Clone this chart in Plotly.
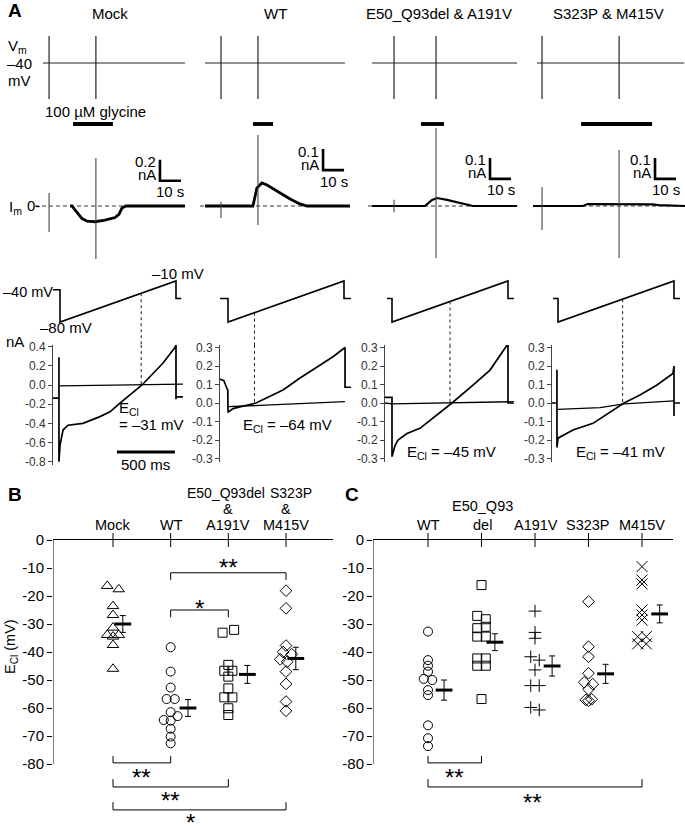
import plotly.graph_objects as go

W, H = 685, 826
FONT = "Liberation Sans, Arial, Helvetica, sans-serif"

# ============================ DATA ============================
# ---------- Panel A : glycine responses (time in s) ----------
col_names = ["Mock", "WT", "E50_Q93del & A191V", "S323P & M415V"]

vm_hold = -40
vm_start = [3.8, 2.4, 1.9, 1.9]
vm_end = [71.4, 69.0, 71.0, 72.0]
artifact_t = [[6.7, 29.0], [10.0, 27.6], [12.4, 32.4], [4.3, 41.0]]
vm_art_hi, vm_art_lo = 14, -112

gly_on = [18.1, 25.2, 25.2, 22.9]
gly_off = [37.1, 34.8, 36.2, 56.7]

im_t = [
    [16.7, 17.6, 20, 22.4, 24.8, 28.6, 33.3, 38.1, 40, 41.4, 43.3, 71.4],
    [2.4, 25.2, 27.1, 29.5, 31.9, 38.1, 42.9, 47.6, 51.0, 71.4],
    [1.9, 27.1, 30.5, 32.9, 37.6, 43.8, 50.0, 71.0],
    [0.0, 23.8, 26.0, 52.0, 56.7, 60.0, 72.4],
]
im_i = [
    [0, 0, -0.06, -0.12, -0.145, -0.15, -0.135, -0.11, -0.08, -0.02, 0, 0],
    [0, 0, 0.086, 0.11, 0.10, 0.062, 0.033, 0.010, 0, 0],
    [0, 0, 0.029, 0.038, 0.029, 0.014, 0, 0],
    [0, 0, 0.0095, 0.0095, 0.008, 0.004, 0],
]
im_art_hi = [[0.124, 0.457], [0.02, 0.338], [0.03, 0.371], [0.09, 0.267]]
im_art_lo = [[-0.248, -0.505], [-0.057, -0.09], [-0.03, -0.248], [-0.114, -0.248]]
im_base_end = [71.4, 71.4, 71.0, 72.4]

sb_t = [59.5, 58.6, 58.1, 58.1]
sb_i = [0.24, 0.171, 0.129, 0.129]
sb_amp = [0.2, 0.1, 0.1, 0.1]
sb_amp_lbl = ["0.2", "0.1", "0.1", "0.1"]
sb_dur = 10

# ---------- Panel A : voltage ramps (time in ms) ----------
ramp_v0, ramp_v1, ramp_dur, ramp_hold = -80, -10, 1000, -40
ramp_pre_t = [-60, -69, -43, -43]
ramp_pre_v = [-25, -40, -40, -40]
ramp_post_t = [1045, 1060, 1050, 1052]
ecl = [-31, -64, -45, -41]

iv_gly_t = [
    [-60, -9, -9, -9, 0, 26, 69, 198, 345, 431, 517, 603, 707, 802, 888, 991, 1000, 1000, 1000, 1060],
    [-69, -35, -10, -2, 0, 43, 241, 474, 621, 767, 905, 1009, 1009, 1060],
    [-60, 0, 0, 26, 52, 129, 241, 388, 517, 698, 845, 1000, 1000, 1050],
    [-52, -9, -9, -9, 0, 129, 302, 569, 707, 853, 991, 1000, 1000, 1000, 1052],
]
iv_gly_i = [
    [-0.136, -0.136, 0.29, -0.80, -0.63, -0.47, -0.42, -0.40, -0.33, -0.28, -0.19, -0.10, 0.0, 0.12, 0.23, 0.39, 0.42, -0.15, -0.125, -0.125],
    [0.13, 0.12, 0.08, 0.07, -0.05, -0.03, 0.0, 0.07, 0.135, 0.195, 0.25, 0.30, 0.085, 0.085],
    [0.03, 0.03, -0.29, -0.23, -0.20, -0.165, -0.137, -0.065, 0.0, 0.097, 0.178, 0.32, 0.0, 0.0],
    [0.0, 0.0, 0.18, -0.24, -0.19, -0.146, -0.11, 0.0, 0.043, 0.097, 0.16, 0.20, -0.07, 0.0, 0.0],
]
iv_ctl_t = [[0, 1060], [0, 1009], [-60, 0, 1050], [0, 190, 362, 569, 1000]]
iv_ctl_i = [[-0.01, 0.01], [-0.02, 0.007], [0.0, -0.005, 0.007], [-0.035, -0.03, -0.025, -0.005, 0.012]]
iv_ticks = [
    [0.4, 0.2, 0.0, -0.2, -0.4, -0.6, -0.8],
    [0.3, 0.2, 0.1, 0.0, -0.1, -0.2, -0.3],
    [0.3, 0.2, 0.1, 0.0, -0.1, -0.2, -0.3],
    [0.3, 0.2, 0.1, 0.0, -0.1, -0.2, -0.3],
]
timebar_t = [491, 991]
timebar_i = -0.70

# ---------- Panel B ----------
b_groups = ["Mock", "WT", "E50_Q93del & A191V", "S323P & M415V"]
b_vals = [
    [-16.4, -17.6, -23.6, -26.8, -31.3, -33.9, -33.9, -34.5, -37.5, -46.0],
    [-38.3, -47.0, -52.7, -56.8, -56.8, -61.5, -62.9, -64.3, -64.5, -67.4, -70.2, -72.6],
    [-33.1, -32.1, -44.6, -46.7, -46.7, -48.8, -53.0, -56.2, -56.2, -60.1, -62.5],
    [-18.1, -24.4, -37.7, -40.0, -40.8, -42.6, -43.5, -47.0, -51.4, -57.7, -61.0],
]
b_jit = [
    [-0.1, 0.1, 0, 0, 0, -0.1, 0.1, 0, 0, 0],
    [0, 0, 0, -0.07, 0.07, 0, 0.12, -0.12, 0, 0, 0, 0],
    [-0.1, 0.1, 0, -0.07, 0.07, 0, 0, -0.07, 0.07, 0, 0],
    [0, 0, 0, -0.05, 0.1, -0.1, 0.02, 0, 0, 0, 0],
]
b_sym = ["triangle-up-open", "circle-open", "square-open", "diamond-open"]
b_mean = [-30.0, -60.0, -48.0, -42.3]
b_sem = [3.0, 3.0, 3.2, 4.0]
b_mean_off = [0.17, 0.3, 0.33, 0.17]
b_br_from = [1, 1, 0, 0, 0]
b_br_to = [3, 2, 1, 2, 3]
b_br_y = [-11.7, -25.0, -79.6, -88.2, -96.4]
b_br_leg = [-14.3, -27.6, -77.1, -85.4, -93.6]
b_br_lbl = ["**", "*", "**", "**", "*"]
b_br_lbl_x = [2.0, 1.5, 0.5, 1.0, 1.35]
b_br_lbl_y = [-8.2, -22.5, -83.2, -91.4, -99.0]

# ---------- Panel C ----------
c_groups = ["WT", "E50_Q93del", "A191V", "S323P", "M415V"]
c_vals = [
    [-32.7, -42.9, -44.9, -47.0, -49.6, -50.0, -53.6, -55.4, -66.2, -70.8, -73.6],
    [-16.1, -27.1, -28.3, -31.0, -31.5, -34.5, -34.5, -42.3, -42.3, -44.9, -44.9, -56.8],
    [-25.4, -33.0, -35.1, -41.7, -42.9, -46.4, -52.0, -52.0, -59.8, -60.7],
    [-22.0, -38.1, -41.7, -47.6, -50.8, -51.5, -53.3, -57.1, -57.4, -56.9],
    [-9.5, -14.3, -15.7, -25.0, -26.8, -28.6, -34.5, -34.5, -37.1, -37.1],
]
c_jit = [
    [0, 0, 0, 0, -0.08, 0.08, 0, 0, 0, 0, 0],
    [0, -0.08, 0.08, 0.08, -0.08, -0.08, 0.08, -0.08, 0.08, -0.08, 0.08, 0],
    [0, 0, 0, -0.08, 0.08, 0, -0.08, 0.08, -0.08, 0.08],
    [0, 0, 0, 0, -0.08, 0.08, 0, -0.05, 0, 0.06],
    [0, 0, 0, 0, 0, 0, -0.08, 0.08, -0.08, 0.08],
]
c_sym = ["circle-open", "square-open", "cross-thin-open", "diamond-open", "x-thin-open"]
c_size = [9, 9, 9, 9, 11]
c_mean = [-53.6, -36.5, -45.0, -47.8, -26.4]
c_sem = [3.6, 3.0, 3.6, 3.4, 3.2]
c_mean_off = [0.3, 0.25, 0.32, 0.32, 0.33]
c_br_from = [0, 0]
c_br_to = [1, 4]
c_br_y = [-79.6, -88.2]
c_br_leg = [-77.1, -85.4]
c_br_lbl = ["**", "**"]
c_br_lbl_x = [0.5, 1.95]
c_br_lbl_y = [-83.2, -91.8]

ytick_vals = [0, -10, -20, -30, -40, -50, -60, -70, -80]

# ============================ LAYOUT GEOMETRY (pixels) ============================
T_PX0 = [35, 200, 368, 533]; T_W = 152; K_T = 2.1
VM_DOM = (28, 104); VM_Y0 = 63; K_VM = 0.5
GLY_DOM = (116, 132)
IM_DOM = (126, 262); IM_Y0 = 206; K_IM = [105, 210, 210, 210]
R_AX = [53, 220, 385, 552]; R_STEP = [60, 228, 392, 558]; R_W = 132; K_R = 0.116
RV_DOM = (265, 345); RV_80 = 322; K_RV = 0.586
IV_DOM = [(345, 465), (345, 462), (345, 462), (345, 462)]
IV_Y0 = [385, 403, 403, 403]; K_IV = [95.8, 185, 185, 185]

layout = dict(width=W, height=H, autosize=False,
              margin=dict(l=0, r=0, t=0, b=0, pad=0, autoexpand=False),
              paper_bgcolor="white", plot_bgcolor="rgba(0,0,0,0)",
              showlegend=False, font=dict(family=FONT, size=14, color="black"),
              annotations=[], shapes=[])
traces = []
_n = [0]


def add_axes(xdom, xr, ydom, yr, xextra=None, yextra=None):
    _n[0] += 1
    s = "" if _n[0] == 1 else str(_n[0])
    xa = dict(domain=[xdom[0] / W, xdom[1] / W], range=list(xr), anchor="y" + s,
              visible=False, fixedrange=True, automargin=False)
    ya = dict(domain=[1 - ydom[1] / H, 1 - ydom[0] / H], range=list(yr), anchor="x" + s,
              visible=False, fixedrange=True, automargin=False)
    if xextra:
        xa.update(xextra)
    if yextra:
        ya.update(yextra)
    layout["xaxis" + s] = xa
    layout["yaxis" + s] = ya
    return "x" + s, "y" + s


def line(ax, x, y, width=1.0, color="black", dash=None):
    traces.append(go.Scatter(x=x, y=y, xaxis=ax[0], yaxis=ax[1], mode="lines",
                             line=dict(width=width, color=color, dash=dash),
                             hoverinfo="skip", showlegend=False, connectgaps=False))


def ann(text, xpx, ypx, size=14.5, xanchor="center", yanchor="middle", **kw):
    layout["annotations"].append(dict(text=text, x=xpx / W, y=1 - ypx / H, xref="paper", yref="paper",
                                      showarrow=False, xanchor=xanchor, yanchor=yanchor,
                                      font=dict(family=FONT, size=size, color="black"), **kw))


def dann(text, ax, x, y, size=14.5, xanchor="center", yanchor="middle", xshift=0, yshift=0):
    layout["annotations"].append(dict(text=text, x=x, y=y, xref=ax[0], yref=ax[1], showarrow=False,
                                      xanchor=xanchor, yanchor=yanchor, xshift=xshift, yshift=yshift,
                                      font=dict(family=FONT, size=size, color="black")))


def seg_x(ts):
    out = []
    for t in ts:
        out += [t, t, None]
    return out


def seg_y(his, los):
    out = []
    for a, b in zip(his, los):
        out += [a, b, None]
    return out


# ============================ PANEL A ============================
ann("<b>A</b>", 15, 10, size=19)
for c, name in enumerate(col_names):
    px0 = T_PX0[c]
    tr = (0, T_W / K_T)
    xd = (px0, px0 + T_W)
    ann(name, [110, 275, 439, 608][c], 13, size=15)

    # Vm row
    vm_ax = add_axes(xd, tr, VM_DOM, (vm_hold - (VM_DOM[1] - VM_Y0) / K_VM, vm_hold + (VM_Y0 - VM_DOM[0]) / K_VM))
    line(vm_ax, [vm_start[c], vm_end[c]], [vm_hold, vm_hold], width=1.2, color="#222")
    line(vm_ax, seg_x(artifact_t[c]), seg_y([vm_art_hi] * 2, [vm_art_lo] * 2), width=1.2, color="#222")

    # glycine bar
    g_ax = add_axes(xd, tr, GLY_DOM, (-1, 1))
    line(g_ax, [gly_on[c], gly_off[c]], [0, 0], width=3.8)

    # Im row
    k = K_IM[c]
    im_ax = add_axes(xd, tr, IM_DOM, (-(IM_DOM[1] - IM_Y0) / k, (IM_Y0 - IM_DOM[0]) / k))
    line(im_ax, [0, im_base_end[c]], [0, 0], width=1, color="#333", dash="4px,3px")
    line(im_ax, im_t[c], im_i[c], width=2.8 if c < 2 else 2.2)
    line(im_ax, seg_x(artifact_t[c]), seg_y(im_art_hi[c], im_art_lo[c]), width=1.1, color="#444")
    line(im_ax, [sb_t[c], sb_t[c], sb_t[c] + sb_dur], [sb_i[c] + sb_amp[c], sb_i[c], sb_i[c]], width=2.6)
    dann(sb_amp_lbl[c], im_ax, sb_t[c], sb_i[c] + sb_amp[c], size=15, xanchor="right", xshift=-2, yshift=-2)
    dann("nA", im_ax, sb_t[c], sb_i[c] + sb_amp[c], size=15, xanchor="right", xshift=-2, yshift=-15)
    dann("10 s", im_ax, sb_t[c] + sb_dur / 2, sb_i[c], size=15, yshift=-11)

    # ramp voltage
    xr = ((R_AX[c] - R_STEP[c]) / K_R, (R_AX[c] + R_W - R_STEP[c]) / K_R)
    xdr = (R_AX[c], R_AX[c] + R_W)
    rv_lo = ramp_v0 - (RV_DOM[1] - RV_80) / K_RV
    rv_hi = ramp_v0 + (RV_80 - RV_DOM[0]) / K_RV
    rv_ax = add_axes(xdr, xr, RV_DOM, (rv_lo, rv_hi))
    line(rv_ax, [ramp_pre_t[c], 0, 0, ramp_dur, ramp_dur, ramp_post_t[c]],
         [ramp_pre_v[c], ramp_pre_v[c], ramp_v0, ramp_v1, ramp_hold, ramp_hold], width=1.6)
    t_e = (ecl[c] - ramp_v0) / (ramp_v1 - ramp_v0) * ramp_dur
    line(rv_ax, [t_e, t_e], [ecl[c], rv_lo], width=1, color="#222", dash="3px,3px")

    # current during ramp
    dom = IV_DOM[c]
    kv = K_IV[c]
    iv_top = (IV_Y0[c] - dom[0]) / kv
    iv_bot = -(dom[1] - IV_Y0[c]) / kv
    yextra = dict(visible=True, showline=True, linecolor="#444", linewidth=1, showgrid=False,
                  zeroline=False, ticks="outside", ticklen=4, tickcolor="#444", tickwidth=1,
                  tickvals=iv_ticks[c], ticktext=[("%.1f" % v).replace("-0.0", "0.0") for v in iv_ticks[c]],
                  tickfont=dict(family=FONT, size=12, color="#333"))
    iv_ax = add_axes(xdr, xr, dom, (iv_bot, iv_top), yextra=yextra)
    line(iv_ax, [t_e, t_e], [iv_top, 0], width=1, color="#222", dash="3px,3px")
    line(iv_ax, iv_ctl_t[c], iv_ctl_i[c], width=1.3)
    line(iv_ax, iv_gly_t[c], iv_gly_i[c], width=1.7)
    if c == 0:
        line(iv_ax, timebar_t, [timebar_i, timebar_i], width=3)
        dann("500 ms", iv_ax, sum(timebar_t) / 2, timebar_i, size=15, yshift=-12)
        dann("E<sub>Cl</sub>", iv_ax, 490, -0.245, size=15, xanchor="left")
        dann("= –%d mV" % abs(ecl[c]), iv_ax, 490, -0.41, size=15, xanchor="left")
    else:
        ann("E<sub>Cl</sub> = –%d mV" % abs(ecl[c]), [0, 287, 452, 620][c], [0, 425, 452, 452][c], size=15)

ann("V<sub>m</sub>", 6, 46, size=15, xanchor="left")
ann("–40", 5, 63, size=15, xanchor="left")
ann("mV", 6, 80, size=15, xanchor="left")
ann("100 µM glycine", 95, 112, size=15)
ann("I<sub>m</sub>", 7, 207, size=15, xanchor="left")
ann("0-", 25, 206, size=15, xanchor="left")
ann("–40 mV", 1, 292, size=14.5, xanchor="left")
ann("–10 mV", 178, 273, size=15)
ann("–80 mV", 66, 327, size=15)
ann("nA", 15, 341, size=15)

# ============================ PANEL B & C ============================
K_BC = 2.8
BC_Y0 = 540
BC_YDOM = (540, 826)
bc_yr = (-(BC_YDOM[1] - BC_Y0) / K_BC, 0)


def scatter_panel(ax, vals, jit, syms, sizes, means, sems, moffs, ncat):
    for i in range(ncat):
        traces.append(go.Scatter(x=[i + o for o in jit[i]], y=vals[i], xaxis=ax[0], yaxis=ax[1],
                                 mode="markers", hoverinfo="skip", showlegend=False,
                                 marker=dict(symbol=syms[i], size=sizes[i], color="black",
                                             line=dict(color="black", width=1))))
        traces.append(go.Scatter(x=[i + moffs[i]], y=[means[i]], xaxis=ax[0], yaxis=ax[1],
                                 mode="markers", hoverinfo="skip", showlegend=False,
                                 marker=dict(symbol="line-ew", size=12, color="black",
                                             line=dict(color="black", width=3)),
                                 error_y=dict(type="data", array=[sems[i]], thickness=1, width=3,
                                              color="black")))
    traces.append(go.Scatter(x=list(range(ncat)), y=[0] * ncat, xaxis=ax[0], yaxis=ax[1],
                             mode="markers", hoverinfo="skip", showlegend=False, cliponaxis=False,
                             marker=dict(symbol="line-ns", size=10, line=dict(color="black", width=1))))


def brackets(ax, fr, to, yb, yl, lbl, lx, ly):
    for a, b, y0, y1, t, x, y in zip(fr, to, yb, yl, lbl, lx, ly):
        line(ax, [a, a, b, b], [y1, y0, y0, y1], width=1)
        dann(t, ax, x, y, size=24, yshift=-5)


def bc_axes(xdom, cat0, step):
    xr = ((xdom[0] - cat0) / step, (xdom[1] - cat0) / step)
    xextra = dict(visible=True, side="top", showline=True, linecolor="black", linewidth=1,
                  showticklabels=False, ticks="", showgrid=False, zeroline=False)
    yextra = dict(visible=True, showline=False, showgrid=False, zeroline=False, ticks="outside",
                  ticklen=5, tickcolor="black", tickwidth=1, tickvals=ytick_vals,
                  ticktext=[str(v) for v in ytick_vals], tickfont=dict(family=FONT, size=15, color="black"))
    ax = add_axes(xdom, xr, BC_YDOM, bc_yr, xextra=xextra, yextra=yextra)
    layout["shapes"].append(dict(type="line", xref=ax[0], yref=ax[1], x0=xr[0], x1=xr[0], y0=0,
                                 y1=ytick_vals[-1], line=dict(color="black", width=1)))
    return ax


# Panel B
ann("<b>B</b>", 15, 494, size=19)
bax = bc_axes((53, 333), 113, 57.67)
scatter_panel(bax, b_vals, b_jit, b_sym, [10, 9, 9, 9], b_mean, b_sem, b_mean_off, 4)
brackets(bax, b_br_from, b_br_to, b_br_y, b_br_leg, b_br_lbl, b_br_lbl_x, b_br_lbl_y)
for x, t in [(113, "Mock"), (171, "WT"), (228, "A191V"), (286, "M415V")]:
    ann(t, x, 525)
ann("E50_Q93del", 226, 493, size=14)
ann("S323P", 291, 493, size=14)
for x in (228, 286):
    ann("&", x, 509)
ann("E<sub>Cl</sub> (mV)", 11, 647, textangle=-90)

# Panel C
ann("<b>C</b>", 352, 494, size=19)
cax = bc_axes((373, 673), 428, 53.5)
scatter_panel(cax, c_vals, c_jit, c_sym, c_size, c_mean, c_sem, c_mean_off, 5)
brackets(cax, c_br_from, c_br_to, c_br_y, c_br_leg, c_br_lbl, c_br_lbl_x, c_br_lbl_y)
for x, t in [(428, "WT"), (482, "del"), (536, "A191V"), (588, "S323P"), (642, "M415V")]:
    ann(t, x, 525)
ann("E50_Q93", 482, 506)

fig = go.Figure(data=traces, layout=layout)
fig.write_html("out.html", config=dict(displayModeBar=False, staticPlot=True),
               post_script="document.body.style.margin='0';document.body.style.overflow='hidden';")
